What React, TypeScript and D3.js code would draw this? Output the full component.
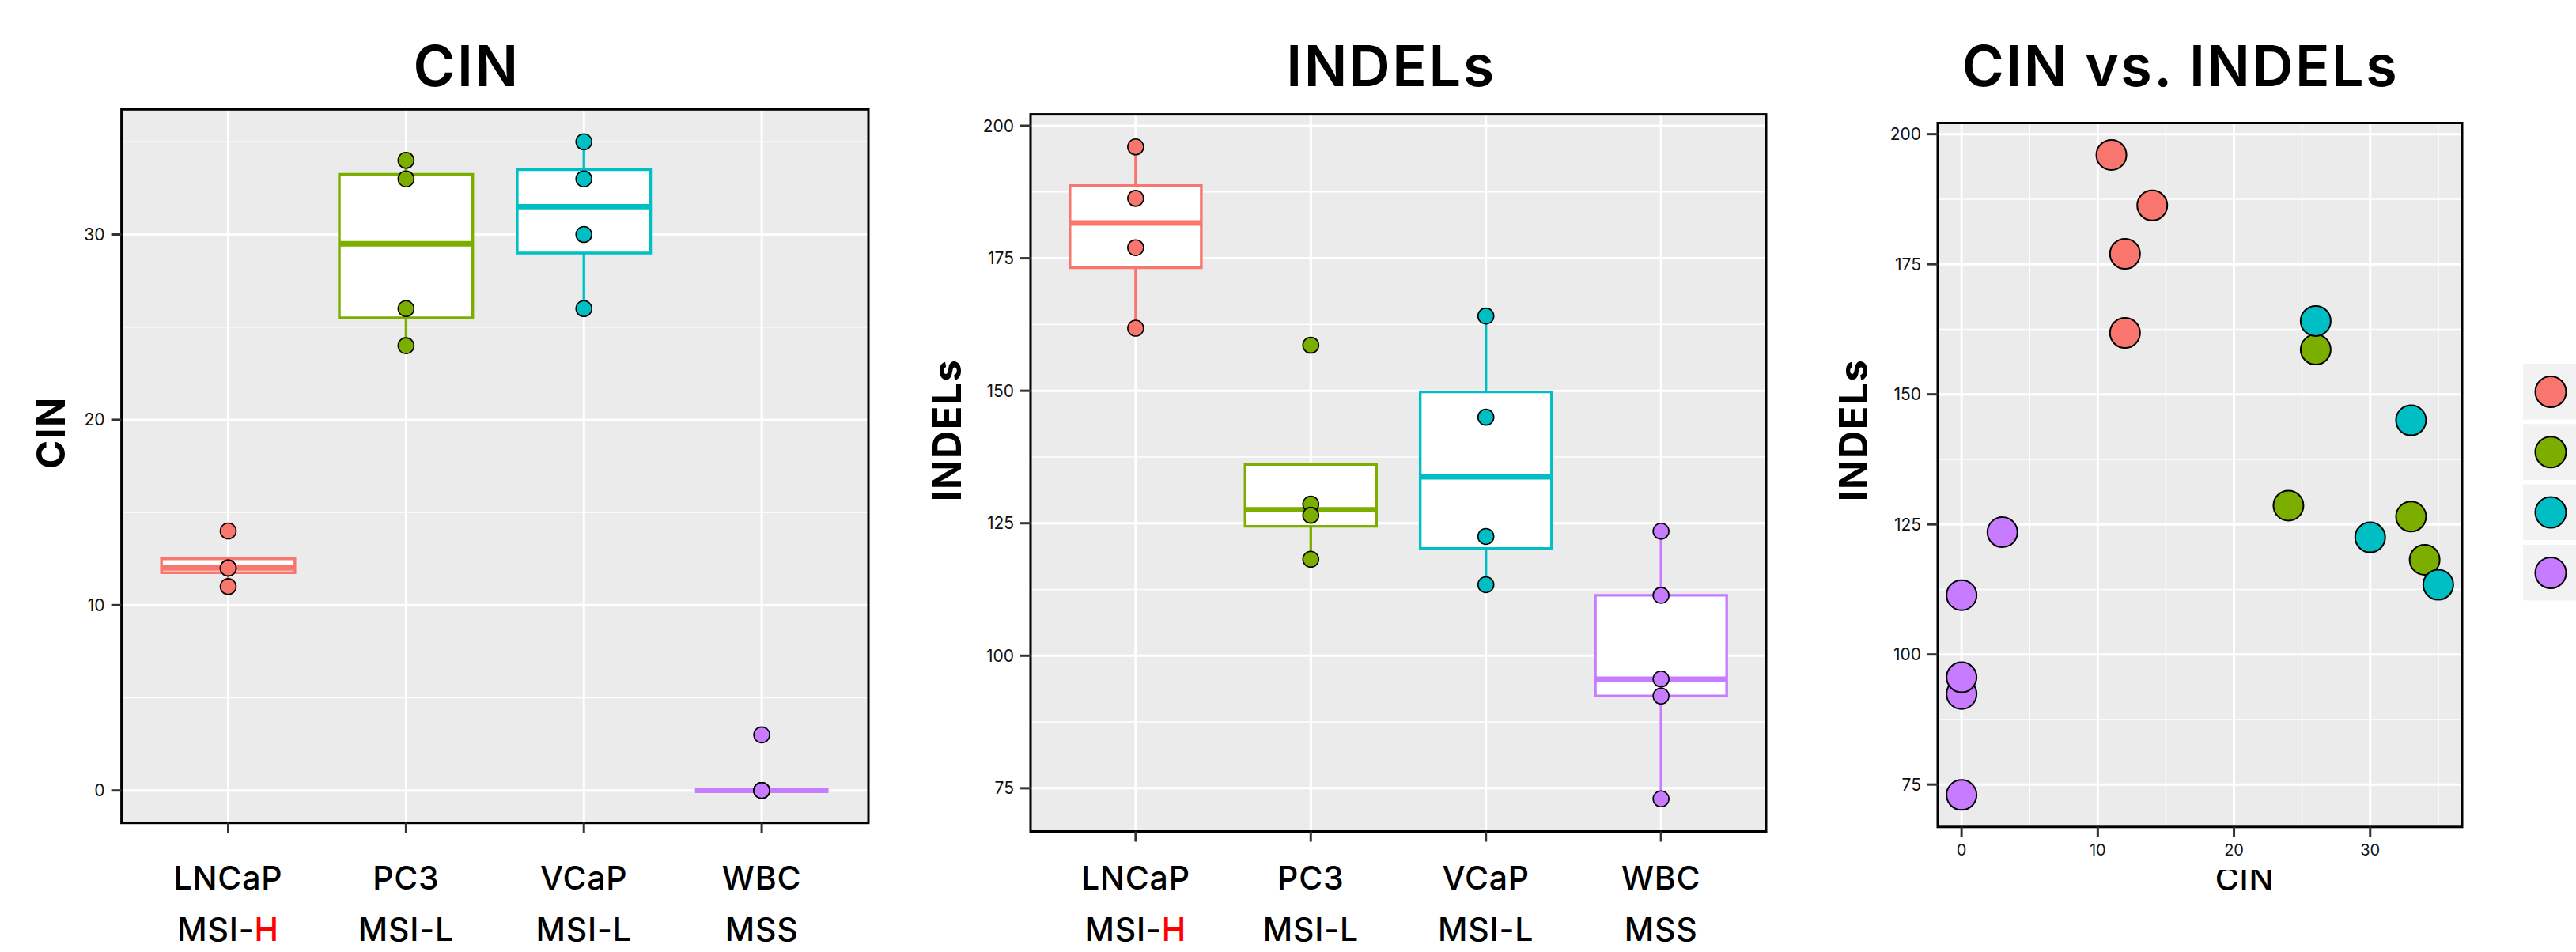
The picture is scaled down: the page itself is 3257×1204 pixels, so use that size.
import React from "react";
import * as d3 from "d3";

// cell lines and their MSI status (x axis of the two box plots)
const cellLines = ["LNCaP", "PC3", "VCaP", "WBC"];
const msiStatus = ["MSI-H", "MSI-L", "MSI-L", "MSS"];
const lineColors = ["#F8766D", "#7CAE00", "#00BFC4", "#C77CFF"];

// one entry per sample
const sampleLine = [
  "LNCaP", "LNCaP", "LNCaP", "LNCaP",
  "PC3", "PC3", "PC3", "PC3",
  "VCaP", "VCaP", "VCaP", "VCaP",
  "WBC", "WBC", "WBC", "WBC", "WBC",
];
const sampleCIN = [11, 14, 12, 12, 26, 24, 33, 34, 26, 33, 30, 35, 3, 0, 0, 0, 0];
const sampleINDELs = [
  196, 186.3, 177, 161.8,
  158.6, 128.6, 126.5, 118.2,
  164.1, 145, 122.5, 113.4,
  123.5, 111.4, 92.4, 95.6, 73,
];

const cinTicks = [0, 10, 20, 30];
const indelTicks = [75, 100, 125, 150, 175, 200];

const W = 3257;
const H = 1204;
const FONT = "Inter, 'Noto Sans', sans-serif";

const p1 = { left: 153.6, right: 1098, top: 138.3, bottom: 1040.7 };
const p2 = { left: 1303, right: 2233, top: 144.6, bottom: 1051.5 };
const p3 = { left: 2450, right: 3113, top: 155.5, bottom: 1045.8 };

const expand = (vals) => {
  const [lo, hi] = d3.extent(vals);
  const pad = (hi - lo) * 0.05;
  return [lo - pad, hi + pad];
};

// minor breaks halfway between the majors, ggplot style
const minorOf = (ticks, domain) => {
  const step = ticks[1] - ticks[0];
  const out = [];
  for (let v = ticks[0] - step / 2; v <= domain[1]; v += step) {
    if (v >= domain[0]) out.push(v);
  }
  return out;
};

const boxStats = (vals) => {
  const s = vals.slice().sort(d3.ascending);
  const q1 = d3.quantileSorted(s, 0.25);
  const med = d3.quantileSorted(s, 0.5);
  const q3 = d3.quantileSorted(s, 0.75);
  const iqr = q3 - q1;
  const lo = d3.min(s.filter((v) => v >= q1 - 1.5 * iqr));
  const hi = d3.max(s.filter((v) => v <= q3 + 1.5 * iqr));
  return { q1, med, q3, lo, hi };
};

const Frame = ({ p, children }) => (
  <g>
    <rect x={p.left} y={p.top} width={p.right - p.left} height={p.bottom - p.top} fill="#EBEBEB" />
    {children}
    <rect x={p.left} y={p.top} width={p.right - p.left} height={p.bottom - p.top}
      fill="none" stroke="#000" strokeWidth={3} />
  </g>
);

const YGrid = ({ p, y, ticks, minor }) => (
  <g>
    {minor.map((t) => (
      <line key={"m" + t} x1={p.left} x2={p.right} y1={y(t)} y2={y(t)} stroke="#fff" strokeWidth={1.5} />
    ))}
    {ticks.map((t) => (
      <line key={"g" + t} x1={p.left} x2={p.right} y1={y(t)} y2={y(t)} stroke="#fff" strokeWidth={3} />
    ))}
  </g>
);

const YTicks = ({ p, y, ticks, label, labelX, labelY }) => (
  <g fontFamily={FONT}>
    {ticks.map((t) => (
      <g key={t}>
        <line x1={p.left - 13} x2={p.left} y1={y(t)} y2={y(t)} stroke="#333" strokeWidth={3} />
        <text x={p.left - 21} y={y(t)} dy="0.36em" textAnchor="end" fontSize={21} fill="#111">{t}</text>
      </g>
    ))}
    <text transform={`translate(${labelX},${labelY}) rotate(-90)`} textAnchor="middle"
      fontSize={49} fontWeight={700} letterSpacing={1.5} fill="#000">{label}</text>
  </g>
);

const CategoryLabels = ({ p, x }) => (
  <g fontFamily={FONT} fontSize={41} fontWeight={500} letterSpacing={0.8} fill="#000" textAnchor="middle">
    {cellLines.map((c, i) => (
      <g key={c}>
        <line x1={x(c)} x2={x(c)} y1={p.bottom} y2={p.bottom + 13} stroke="#333" strokeWidth={3} />
        <text x={x(c)} y={1125}>{c}</text>
        <text x={x(c)} y={1190}>
          {msiStatus[i] === "MSI-H" ? (
            <>MSI-<tspan fill="#FF0000">H</tspan></>
          ) : msiStatus[i]}
        </text>
      </g>
    ))}
  </g>
);

const BoxPanel = ({ p, values, ticks, label, labelX, labelY }) => {
  const ydom = expand(values);
  const y = d3.scaleLinear().domain(ydom).range([p.bottom, p.top]);
  const x = d3.scalePoint().domain(cellLines).range([p.left, p.right]).padding(0.6);
  const bw = x.step() * 0.75;
  const minor = minorOf(ticks, ydom);
  return (
    <g>
      <Frame p={p}>
        <YGrid p={p} y={y} ticks={ticks} minor={minor} />
        {cellLines.map((c) => (
          <line key={c} x1={x(c)} x2={x(c)} y1={p.top} y2={p.bottom} stroke="#fff" strokeWidth={3} />
        ))}
        {cellLines.map((c, i) => {
          const vals = values.filter((_, j) => sampleLine[j] === c);
          const s = boxStats(vals);
          const cx = x(c);
          const col = lineColors[i];
          return (
            <g key={c} stroke={col} fill="none">
              <line x1={cx} x2={cx} y1={y(s.q3)} y2={y(s.hi)} strokeWidth={3.4} />
              <line x1={cx} x2={cx} y1={y(s.q1)} y2={y(s.lo)} strokeWidth={3.4} />
              <path d={`M${cx - bw / 2},${y(s.q3)}H${cx + bw / 2}V${y(s.q1)}H${cx - bw / 2}Z`}
                fill="#fff" strokeWidth={3.4} />
              <line x1={cx - bw / 2} x2={cx + bw / 2} y1={y(s.med)} y2={y(s.med)} strokeWidth={6.8} />
            </g>
          );
        })}
        {values.map((v, j) => (
          <circle key={j} cx={x(sampleLine[j])} cy={y(v)} r={10}
            fill={lineColors[cellLines.indexOf(sampleLine[j])]} stroke="#000" strokeWidth={1.6} />
        ))}
      </Frame>
      <YTicks p={p} y={y} ticks={ticks} label={label} labelX={labelX} labelY={labelY} />
      <CategoryLabels p={p} x={x} />
    </g>
  );
};

const ScatterPanel = ({ p }) => {
  const xdom = expand(sampleCIN);
  const ydom = expand(sampleINDELs);
  const x = d3.scaleLinear().domain(xdom).range([p.left, p.right]);
  const y = d3.scaleLinear().domain(ydom).range([p.bottom, p.top]);
  const yMinor = minorOf(indelTicks, ydom);
  const xMinor = minorOf(cinTicks, xdom);
  return (
    <g>
      <defs>
        <clipPath id="cinClip">
          <rect x={p.left} y={1100} width={p.right - p.left} height={100} />
        </clipPath>
      </defs>
      <Frame p={p}>
        <YGrid p={p} y={y} ticks={indelTicks} minor={yMinor} />
        {xMinor.map((t) => (
          <line key={"m" + t} x1={x(t)} x2={x(t)} y1={p.top} y2={p.bottom} stroke="#fff" strokeWidth={1.5} />
        ))}
        {cinTicks.map((t) => (
          <line key={"g" + t} x1={x(t)} x2={x(t)} y1={p.top} y2={p.bottom} stroke="#fff" strokeWidth={3} />
        ))}
        {sampleCIN.map((c, j) => (
          <circle key={j} cx={x(c)} cy={y(sampleINDELs[j])} r={19}
            fill={lineColors[cellLines.indexOf(sampleLine[j])]} stroke="#000" strokeWidth={2} />
        ))}
      </Frame>
      <YTicks p={p} y={y} ticks={indelTicks} label="INDELs" labelX={2361} labelY={544} />
      <g fontFamily={FONT}>
        {cinTicks.map((t) => (
          <g key={t}>
            <line x1={x(t)} x2={x(t)} y1={p.bottom} y2={p.bottom + 13} stroke="#333" strokeWidth={3} />
            <text x={x(t)} y={1082} textAnchor="middle" fontSize={20} fill="#111">{t}</text>
          </g>
        ))}
        <text x={2838} y={1126} textAnchor="middle" fontSize={41} fontWeight={500} letterSpacing={0.8}
          clipPath="url(#cinClip)">CIN</text>
      </g>
      {/* legend keys, labels fall outside the picture */}
      {lineColors.map((col, i) => (
        <g key={col}>
          <rect x={3190} y={460 + i * 76.3} width={70} height={70.5} fill="#F2F2F2" />
          <circle cx={3225} cy={460 + i * 76.3 + 35.5} r={19.5} fill={col} stroke="#000" strokeWidth={2} />
        </g>
      ))}
    </g>
  );
};

export default function App() {
  return (
    <div style={{ position: "absolute", left: 0, top: 0, width: W, height: H, background: "#fff" }}>
      <svg width={W} height={H} viewBox={`0 0 ${W} ${H}`}>
        <rect width={W} height={H} fill="#fff" />
        <g fontFamily={FONT} fontSize={72} fontWeight={600} letterSpacing={2.5} textAnchor="middle" fill="#000">
          <text x={590} y={109}>CIN</text>
          <text x={1759} y={109}>INDELs</text>
          <text x={2757} y={109}>CIN vs. INDELs</text>
        </g>
        <BoxPanel p={p1} values={sampleCIN} ticks={cinTicks} label="CIN" labelX={82} labelY={547} />
        <BoxPanel p={p2} values={sampleINDELs} ticks={indelTicks} label="INDELs" labelX={1215} labelY={544} />
        <ScatterPanel p={p3} />
      </svg>
    </div>
  );
}
